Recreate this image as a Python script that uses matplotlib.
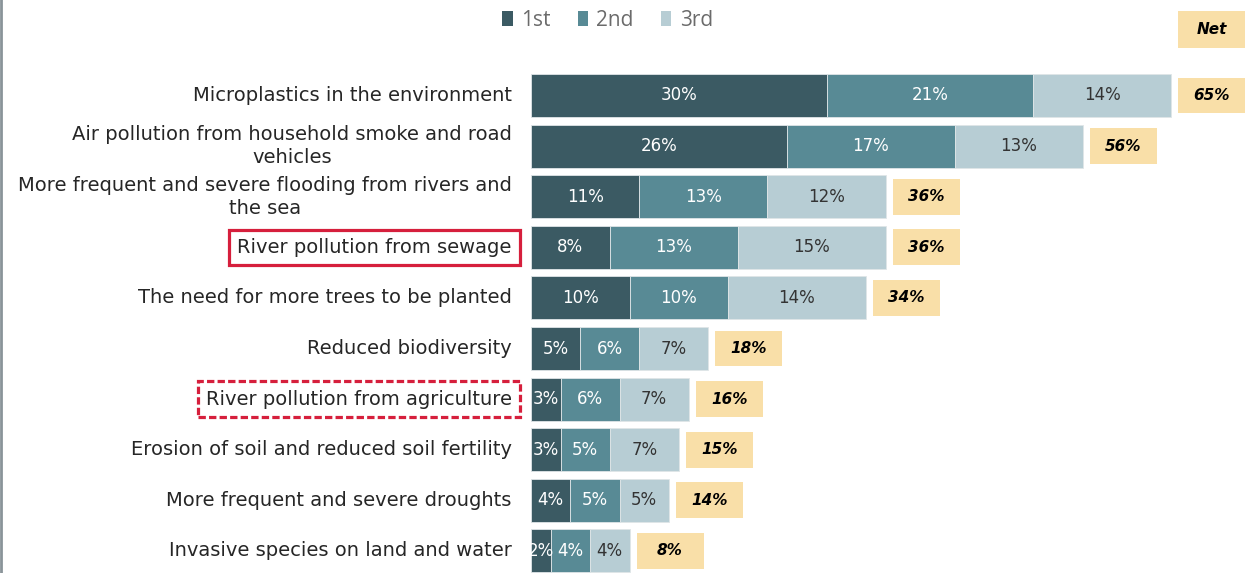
import matplotlib
matplotlib.use("Agg")
import matplotlib.pyplot as plt
from matplotlib.patches import Rectangle, Patch
from matplotlib.lines import Line2D

plt.rcParams['font.family'] = ['DejaVu Sans']

categories = [
    "Microplastics in the environment",
    "Air pollution from household smoke and road\nvehicles",
    "More frequent and severe flooding from rivers and\nthe sea",
    "River pollution from sewage",
    "The need for more trees to be planted",
    "Reduced biodiversity",
    "River pollution from agriculture",
    "Erosion of soil and reduced soil fertility",
    "More frequent and severe droughts",
    "Invasive species on land and water",
]
first = [30, 26, 11, 8, 10, 5, 3, 3, 4, 2]
second = [21, 17, 13, 13, 10, 6, 6, 5, 5, 4]
third = [14, 13, 12, 15, 14, 7, 7, 7, 5, 4]
net = [65, 56, 36, 36, 34, 18, 16, 15, 14, 8]
series_names = ["1st", "2nd", "3rd"]

C1, C2, C3 = "#3B5A63", "#588A95", "#B7CDD4"
NET_FILL = "#F9DFA8"
RED = "#D61F3C"
LABEL_COL = "#262626"

W, H = 1247, 573
fig = plt.figure(figsize=(W / 100, H / 100), dpi=100)
ax = fig.add_axes([531 / W, 0, (W - 531) / W, 1])

px_per_pct = 9.85
row_px = 50.6
row0_px = 95.5
ax.set_xlim(0, (W - 531) / px_per_pct)
ax.set_ylim((H - row0_px) / row_px, -row0_px / row_px)
ax.axis("off")

bar_h = 0.85
ypos = list(range(len(categories)))
edge = dict(edgecolor="#dfe5e7", linewidth=0.6)

left = [0] * len(categories)
for vals, col, txtcol in ((first, C1, "white"), (second, C2, "white"), (third, C3, "#333333")):
    ax.barh(ypos, vals, left=left, height=bar_h, color=col, **edge)
    for y, l, v in zip(ypos, left, vals):
        ax.text(l + v / 2, y, f"{v}%", ha="center", va="center",
                color=txtcol, fontsize=12)
    left = [l + v for l, v in zip(left, vals)]

# Net totals in boxes to the right of each bar
gap = 0.72
box_w = 6.8
box_h = 0.71
for y, end, n in zip(ypos, left, net):
    ax.add_patch(Rectangle((end + gap, y - box_h / 2), box_w, box_h,
                           facecolor=NET_FILL, edgecolor="none"))
    ax.text(end + gap + box_w / 2, y, f"{n}%", ha="center", va="center",
            fontsize=11, fontweight="bold", fontstyle="italic", color="black")

# Net header
hx = left[0] + gap
hy = (29.5 - row0_px) / row_px
ax.add_patch(Rectangle((hx, hy - 0.73 / 2), box_w, 0.73,
                       facecolor=NET_FILL, edgecolor="none", clip_on=False))
ax.text(hx + box_w / 2, hy, "Net", ha="center", va="center",
        fontsize=11, fontweight="bold", fontstyle="italic", color="black")

# Category labels
for y, cat in zip(ypos, categories):
    t = ax.text(-1.95, y, cat, ha="right", va="center", multialignment="center",
                fontsize=14, color=LABEL_COL, linespacing=1.25)
    if cat == "River pollution from sewage":
        t.set_bbox(dict(boxstyle="square,pad=0.42", facecolor="none",
                        edgecolor=RED, linewidth=2.3))
    elif cat == "River pollution from agriculture":
        t.set_bbox(dict(boxstyle="square,pad=0.42", facecolor="none",
                        edgecolor=RED, linewidth=2.3, linestyle=(0, (2.3, 1.0))))

# Legend
handles = [Patch(facecolor=c, edgecolor="none", label=n)
           for c, n in zip((C1, C2, C3), series_names)]
fig.legend(handles=handles, loc="center", bbox_to_anchor=(607.5 / W, 1 - 20 / H),
           ncol=3, frameon=False, prop={"family": "Open Sans", "size": 15},
           handlelength=0.5, handleheight=0.75,
           columnspacing=1.3, handletextpad=0.4, labelcolor="#6b6b6b",
           borderpad=0, borderaxespad=0)

# Left frame line
fig.add_artist(Line2D([1 / W, 1 / W], [0, 1], color="#8A9499", linewidth=2,
                      transform=fig.transFigure))

fig.savefig("out.png", dpi=100)
